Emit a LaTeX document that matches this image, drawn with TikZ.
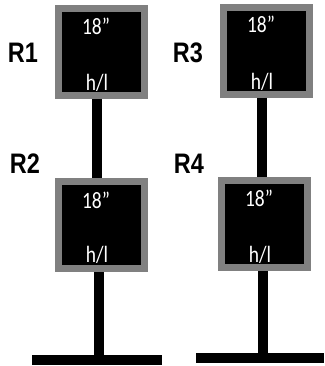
\documentclass[tikz,border=0pt]{standalone}
\usepackage{fontspec}
\usepackage{graphicx}
\setmainfont{Liberation Sans}
\newfontfamily\boxfont{Carlito}
\tikzset{
  sign/.style={draw=signgray, line width=7pt, fill=black, minimum width=86pt, minimum height=87pt, inner sep=0pt},
  lbl/.style={anchor=base, inner sep=0pt, font=\fontsize{23.5}{26}\selectfont\bfseries},
  wtxt/.style={anchor=base, inner sep=0pt, text=white, font=\boxfont\fontsize{19.5}{22}\selectfont},
  pole/.style={line width=10pt, black},
  basebar/.style={fill=black, minimum height=10pt, inner sep=0pt, outer sep=0pt}
}
\definecolor{signgray}{RGB}{128,128,128}
\begin{document}
\begin{tikzpicture}[x=1pt,y=-1pt]
\useasboundingbox (0,0) rectangle (324,366);
% signs
\node[sign] (b1) at (101.5,52) {};
\node[sign] (b2) at (101.5,225) {};
\node[sign] (b3) at (266.5,51) {};
\node[sign] (b4) at (264.5,224) {};
% base bars
\node[basebar, minimum width=130pt] (bar1) at (97,360) {};
\node[basebar, minimum width=128pt] (bar2) at (260,358) {};
% poles
\draw[pole] ([xshift=-4.5pt]b1.south) -- ([xshift=-4.5pt]b1.south |- b2.north);
\draw[pole] ([xshift=-2.5pt]b2.south) -- ([xshift=-2.5pt]b2.south |- bar1.north);
\draw[pole] ([xshift=-4.5pt]b3.south) -- ([xshift=-4.5pt]b3.south |- b4.north);
\draw[pole] ([xshift=-1.5pt]b4.south) -- ([xshift=-1.5pt]b4.south |- bar2.north);
% sign texts
\node[wtxt] (t1a) at (96,35) {\scalebox{1}[1.2]{18”}};
\node[wtxt] (t1b) at (97,91) {\scalebox{1}[1.2]{h/l}};
\node[wtxt] (t2a) at (96,208) {\scalebox{1}[1.2]{18”}};
\node[wtxt] (t2b) at (97,262) {\scalebox{1}[1.2]{h/l}};
\node[wtxt] (t3a) at (261,33) {\scalebox{1}[1.2]{18”}};
\node[wtxt] (t3b) at (262,90) {\scalebox{1}[1.2]{h/l}};
\node[wtxt] (t4a) at (259,206) {\scalebox{1}[1.2]{18”}};
\node[wtxt] (t4b) at (260,262) {\scalebox{1}[1.2]{h/l}};
% row labels
\node[lbl] (r1) at (23,63) {\scalebox{1}[1.2]{R1}};
\node[lbl] (r2) at (25,173) {\scalebox{1}[1.2]{R2}};
\node[lbl] (r3) at (188,63) {\scalebox{1}[1.2]{R3}};
\node[lbl] (r4) at (189,173) {\scalebox{1}[1.2]{R4}};
\end{tikzpicture}
\end{document}
